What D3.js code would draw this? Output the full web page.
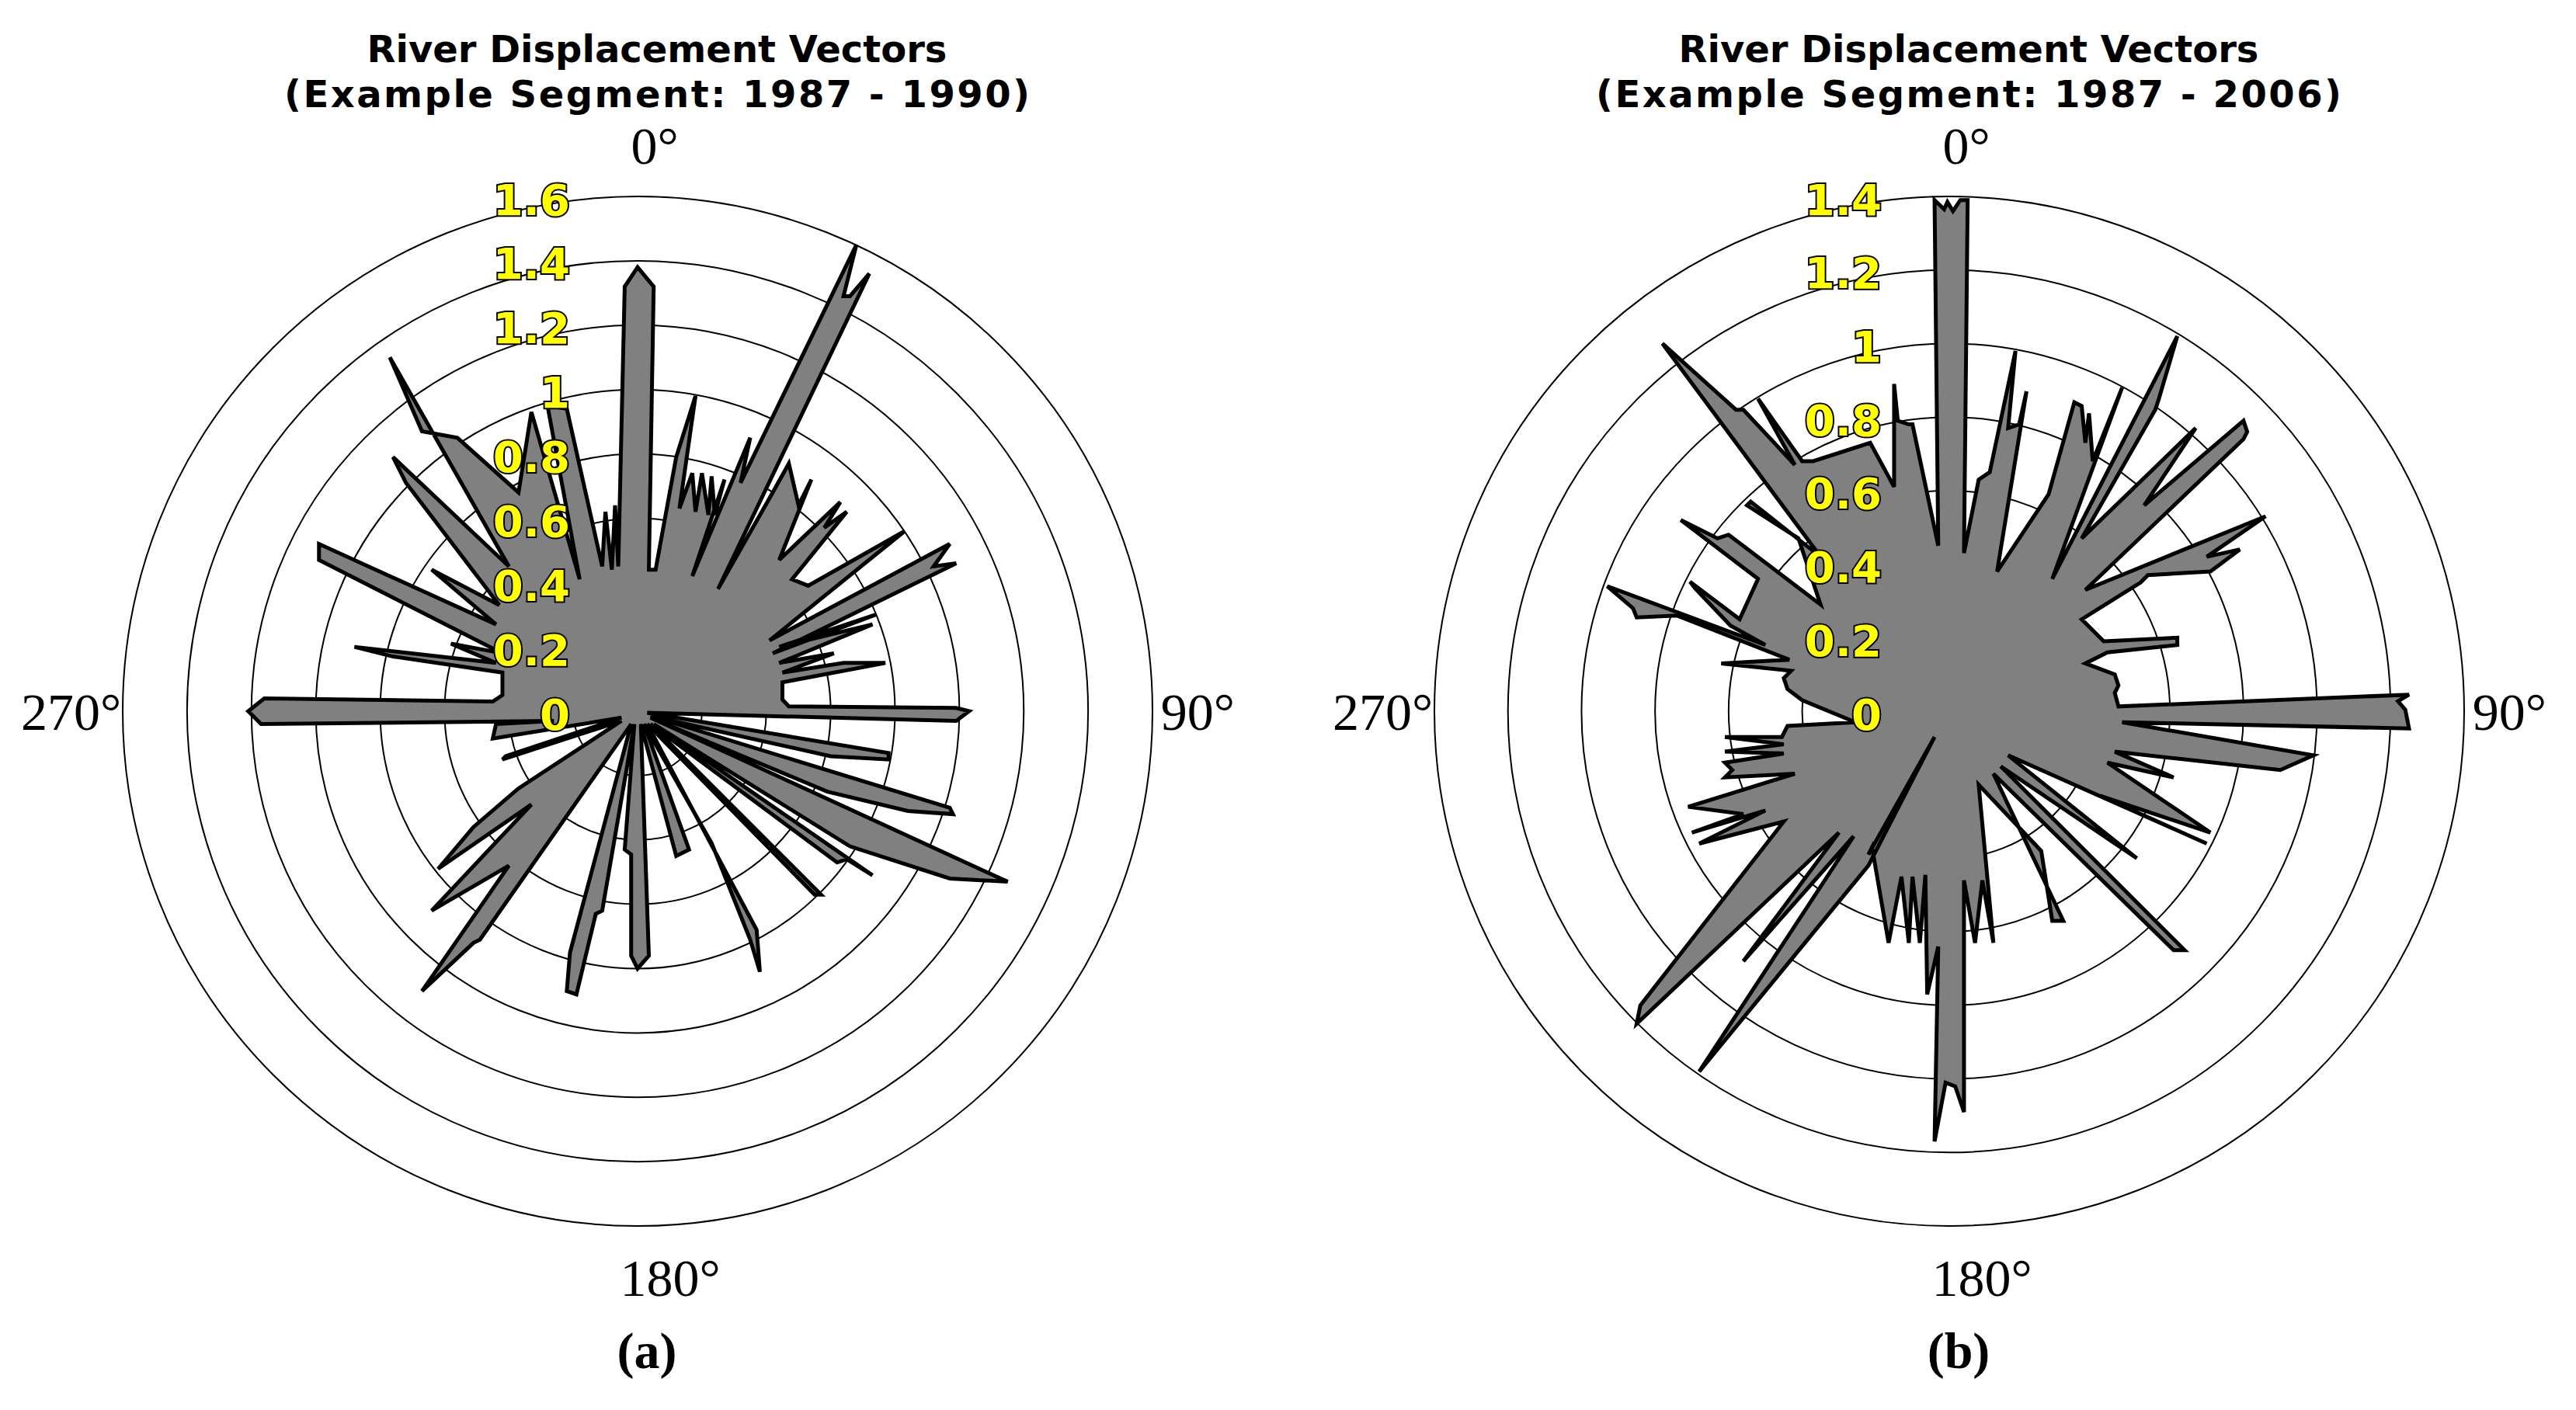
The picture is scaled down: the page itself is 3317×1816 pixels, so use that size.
<!DOCTYPE html>
<html lang="en">
  <head>
    <meta charset="UTF-8">
    <title>River Displacement Vectors</title>
    <style>
      html, body {
        margin: 0;
        padding: 0;
        background-color: #fff;
      }
      svg { display: block; }
    </style>
  </head>
  <body>
    <div id="chart"></div>
    <script src="https://d3js.org/d3.v7.min.js"></script>
    <script>
      // (a) 1987 - 1990 : outline vertices as east / north components
      var eastA = [
        0.00, 0.05, 0.035, 0.056, 0.12, 0.18, 0.13, 0.17, 0.18, 0.20,
        0.22, 0.23, 0.24, 0.27, 0.17, 0.35, 0.32, 0.68, 0.64, 0.66,
        0.72, 0.25, 0.42, 0.47, 0.50, 0.54, 0.44, 0.63, 0.58, 0.65,
        0.48, 0.53, 0.83, 0.41, 0.97, 0.92, 0.99, 0.42, 0.74, 0.44,
        0.73, 0.44, 0.61, 0.45, 0.64, 0.77, 0.45, 0.45, 0.47, 0.99,
        1.03, 0.99, 0.03, 0.78, 0.78, 0.60, 0.04, 0.97, 0.98, 0.84,
        0.59, 0.04, 1.15, 0.97, 0.66, 0.05, 0.73, 0.65, 0.62, 0.04,
        0.57, 0.55, 0.03, 0.37, 0.38, 0.35, 0.23, 0.02, 0.16, 0.12,
        0.01, 0.035, 0.00, -0.02, -0.02, -0.04, -0.01, -0.11, -0.13, -0.19,
        -0.22, -0.21, -0.02, -0.49, -0.51, -0.67, -0.40, -0.64, -0.33, -0.62,
        -0.51, -0.37, -0.05, -0.42, -0.41, -0.05, -0.45, -0.44, -0.26, -1.17,
        -1.21, -1.16, -0.45, -0.42, -0.42, -0.76, -0.88, -0.44, -0.58, -0.42,
        -0.99, -0.99, -0.44, -0.64, -0.43, -0.72, -0.76, -0.40, -0.77, -0.67,
        -0.56, -0.37, -0.33, -0.18, -0.28, -0.22, -0.11, -0.10, -0.08, -0.07,
        -0.06, -0.04
      ];
      var northA = [
        1.38, 1.32, 0.44, 0.44, 0.79, 0.98, 0.63, 0.74, 0.62, 0.74,
        0.61, 0.73, 0.61, 0.72, 0.42, 0.85, 0.71, 1.45, 1.29, 1.29,
        1.36, 0.38, 0.68, 0.77, 0.64, 0.72, 0.47, 0.65, 0.57, 0.62,
        0.41, 0.39, 0.56, 0.22, 0.52, 0.45, 0.46, 0.18, 0.30, 0.20,
        0.27, 0.15, 0.18, 0.12, 0.15, 0.15, 0.09, 0.036, 0.015, 0.01,
        0.00, -0.03, -0.005, -0.13, -0.15, -0.14, -0.015, -0.30, -0.32, -0.31,
        -0.25, -0.02, -0.53, -0.52, -0.42, -0.04, -0.51, -0.46, -0.47, -0.04,
        -0.57, -0.57, -0.04, -0.68, -0.81, -0.71, -0.41, -0.04, -0.43, -0.45,
        -0.04, -0.76, -0.80, -0.76, -0.445, -0.43, -0.04, -0.62, -0.63, -0.88,
        -0.87, -0.75, -0.04, -0.71, -0.72, -0.87, -0.48, -0.62, -0.29, -0.49,
        -0.36, -0.24, -0.03, -0.15, -0.14, -0.02, -0.085, -0.04, -0.03, -0.04,
        0.00, 0.04, 0.03, 0.05, 0.12, 0.17, 0.20, 0.15, 0.21, 0.18,
        0.47, 0.52, 0.27, 0.44, 0.33, 0.71, 0.79, 0.45, 1.10, 0.87,
        0.85, 0.68, 0.93, 0.41, 0.95, 0.94, 0.45, 0.62, 0.44, 0.64,
        0.45, 1.32
      ];

      // (b) 1987 - 2006
      var eastB = [
        0.01, 0.03, 0.05, 0.04, 0.08, 0.11, 0.18, 0.16, 0.19, 0.21,
        0.13, 0.27, 0.34, 0.36, 0.37, 0.38, 0.39, 0.47, 0.28, 0.62,
        0.57, 0.56, 0.36, 0.67, 0.53, 0.80, 0.81, 0.80, 0.37, 0.86,
        0.70, 0.79, 0.71, 0.54, 0.52, 0.36, 0.42, 0.62, 0.62, 0.43,
        0.37, 0.45, 0.46, 0.45, 0.46, 1.25, 1.22, 1.24, 1.25, 0.47,
        0.99, 0.90, 0.63, 0.45, 0.61, 0.43, 0.71, 0.41, 0.70, 0.16,
        0.51, 0.14, 0.64, 0.61, 0.12, 0.31, 0.28, 0.25, 0.08, 0.12,
        0.09, 0.07, 0.04, 0.04, 0.016, -0.01, -0.04, -0.03, -0.06, -0.065,
        -0.08, -0.10, -0.11, -0.13, -0.165, -0.21, -0.22, -0.04, -0.22, -0.68,
        -0.26, -0.56, -0.30, -0.85, -0.84, -0.45, -0.68, -0.50, -0.70, -0.56,
        -0.71, -0.42, -0.61, -0.59, -0.61, -0.45, -0.61, -0.45, -0.61, -0.455,
        -0.44, -0.255, -0.40, -0.44, -0.45, -0.43, -0.62, -0.435, -0.74, -0.85,
        -0.86, -0.93, -0.50, -0.595, -0.69, -0.705, -0.57, -0.52, -0.73, -0.63,
        -0.60, -0.35, -0.41, -0.55, -0.54, -0.35, -0.78, -0.58, -0.56, -0.42,
        -0.52, -0.40, -0.37, -0.215, -0.15, -0.15, -0.14, -0.11, -0.10, -0.03,
        -0.04, -0.014, -0.005
      ];
      var northB = [
        1.36, 1.39, 1.39, 0.43, 0.63, 0.65, 0.98, 0.77, 0.78, 0.87,
        0.38, 0.59, 0.84, 0.83, 0.73, 0.81, 0.68, 0.88, 0.36, 1.02,
        0.85, 0.82, 0.47, 0.77, 0.56, 0.79, 0.76, 0.74, 0.33, 0.53,
        0.42, 0.44, 0.38, 0.37, 0.35, 0.25, 0.19, 0.20, 0.18, 0.16,
        0.13, 0.10, 0.07, 0.05, 0.013, 0.045, 0.027, 0.004, -0.047, -0.03,
        -0.12, -0.16, -0.13, -0.11, -0.18, -0.14, -0.33, -0.23, -0.36, -0.12,
        -0.40, -0.15, -0.65, -0.65, -0.17, -0.57, -0.57, -0.38, -0.20, -0.63,
        -0.46, -0.63, -0.46, -1.09, -1.02, -1.01, -1.17, -0.64, -0.77, -0.445,
        -0.63, -0.45, -0.63, -0.45, -0.63, -0.37, -0.39, -0.07, -0.42, -0.98,
        -0.34, -0.68, -0.33, -0.85, -0.80, -0.30, -0.36, -0.27, -0.33, -0.28,
        -0.26, -0.17, -0.18, -0.16, -0.14, -0.115, -0.11, -0.09, -0.07, -0.07,
        -0.04, -0.03, 0.03, 0.06, 0.09, 0.11, 0.13, 0.14, 0.26, 0.255,
        0.28, 0.34, 0.18, 0.233, 0.333, 0.352, 0.25, 0.36, 0.52, 0.47,
        0.48, 0.29, 0.47, 0.56, 0.57, 0.42, 1.00, 0.82, 0.82, 0.67,
        0.85, 0.68, 0.68, 0.73, 0.61, 0.89, 0.79, 0.78, 0.78, 0.45,
        1.39, 1.365, 1.385
      ];

      var ticksA = [0, 0.2, 0.4, 0.6, 0.8, 1, 1.2, 1.4, 1.6];
      var ticksB = [0, 0.2, 0.4, 0.6, 0.8, 1, 1.2, 1.4];
      var angleTicks = [0, 90, 180, 270];
      var titleA = ["River Displacement Vectors", "(Example Segment: 1987 - 1990)"];
      var titleB = ["River Displacement Vectors", "(Example Segment: 1987 - 2006)"];

      var W = 3317, H = 1816;
      var R = 663;

      var panels = [
        { cx: 821, cy: 916, rmax: 1.6, ticks: ticksA, east: eastA, north: northA, title: titleA, tag: "(a)" },
        { cx: 2510, cy: 916, rmax: 1.4, ticks: ticksB, east: eastB, north: northB, title: titleB, tag: "(b)" }
      ];

      var svg = d3.select("#chart").append("svg")
        .attr("width", W)
        .attr("height", H);
      svg.append("rect").attr("width", W).attr("height", H).attr("fill", "#fff");

      panels.forEach(function(p){
        var g = svg.append("g").attr("transform", "translate(" + p.cx + "," + p.cy + ")");
        var r = d3.scaleLinear().domain([0, p.rmax]).range([0, R]);
        var x = d3.scaleLinear().domain([-p.rmax, p.rmax]).range([-R, R]);
        var y = d3.scaleLinear().domain([-p.rmax, p.rmax]).range([R, -R]);

        // rings
        g.selectAll("circle.ring")
          .data(p.ticks.filter(function(t){ return t > 0; }))
          .join("circle")
          .attr("class", "ring")
          .attr("r", function(d){ return r(d); })
          .attr("fill", "none")
          .attr("stroke", "#000")
          .attr("stroke-width", 2);

        // filled outline of the vectors
        var pts = d3.zip(p.east, p.north);
        var line = d3.line()
          .x(function(d){ return x(d[0]); })
          .y(function(d){ return y(d[1]); })
          .curve(d3.curveLinearClosed);
        g.append("path")
          .datum(pts)
          .attr("d", line)
          .attr("fill", "#808080")
          .attr("stroke", "#000")
          .attr("stroke-width", 5)
          .attr("stroke-linejoin", "miter");

        // radial tick labels
        g.selectAll("text.tick")
          .data(p.ticks)
          .join("text")
          .attr("class", "tick")
          .attr("x", -87)
          .attr("y", function(d){ return -r(d); })
          .attr("dy", "0.42em")
          .attr("text-anchor", "end")
          .attr("font-family", "'DejaVu Sans', Verdana, sans-serif")
          .attr("font-weight", "bold")
          .attr("font-size", 56)
          .attr("fill", "#ffff00")
          .attr("stroke", "#000")
          .attr("stroke-width", 4)
          .attr("paint-order", "stroke")
          .text(function(d){ return d; });

        // angle labels
        var ra = R * 1.1;
        var shift = { 0: 22, 90: -8, 180: 42, 270: 0 };
        g.selectAll("text.ang")
          .data(angleTicks)
          .join("text")
          .attr("class", "ang")
          .attr("x", function(d){
            var a = d * Math.PI / 180;
            return ra * Math.sin(a) + shift[d];
          })
          .attr("y", function(d){
            var a = d * Math.PI / 180;
            return -ra * Math.cos(a);
          })
          .attr("dy", "0.35em")
          .attr("text-anchor", "middle")
          .attr("font-family", "'Liberation Serif', 'Times New Roman', serif")
          .attr("font-size", 68)
          .attr("fill", "#000")
          .text(function(d){ return d + "\u00B0"; });

        // title, second line spread to the reference width
        svg.append("text")
          .attr("text-anchor", "middle")
          .attr("font-family", "'DejaVu Sans', Verdana, sans-serif")
          .attr("font-weight", "bold")
          .attr("font-size", 48)
          .selectAll("tspan")
          .data(p.title)
          .join("tspan")
          .attr("x", p.cx + 25)
          .attr("y", function(d, i){ return 80 + i * 58; })
          .attr("textLength", function(d, i){ return i === 1 ? 960 : null; })
          .attr("lengthAdjust", "spacing")
          .text(function(d){ return d; });

        // panel tag
        svg.append("text")
          .attr("x", p.cx + 12)
          .attr("y", 1762)
          .attr("text-anchor", "middle")
          .attr("font-family", "'Liberation Serif', 'Times New Roman', serif")
          .attr("font-weight", "bold")
          .attr("font-size", 66)
          .text(p.tag);
      });
    </script>
  </body>
</html>
